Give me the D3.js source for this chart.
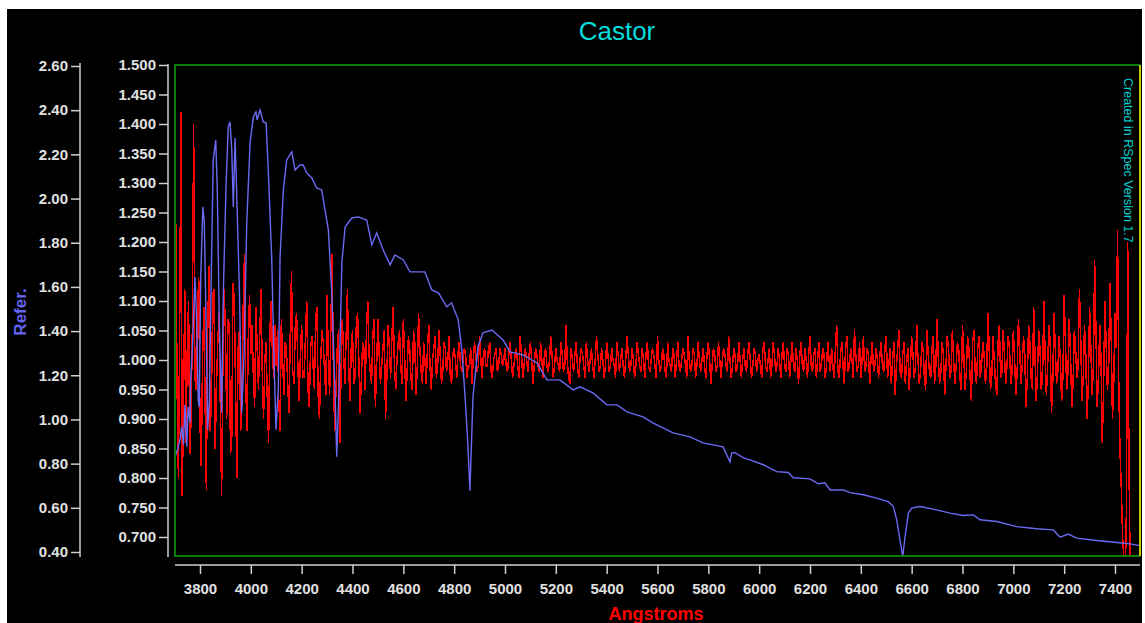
<!DOCTYPE html>
<html>
<head>
<meta charset="utf-8">
<script src="https://cdn.jsdelivr.net/npm/d3@7"></script>
<style>
  body { margin: 0; background: #fff; }
  .tick text { font-family: "Liberation Sans", Arial, sans-serif; font-size: 15px; font-weight: bold; fill: #e0e0e0; }
  .axis line, .axis path { stroke: #cfcfcf; stroke-width: 1.5; }
</style>
</head>
<body>
<svg id="spectrum" width="1145" height="623"></svg>
<script>
// Reference spectrum (blue, outer "Refer." axis)
const refWave = [3702,3711,3721,3728,3735,3741,3748,3753,3761,3763,3770,3780,3787,3793,3797,3803,3811,3817,3824,3830,
  3837,3846,3852,3862,3868,3876,3885,3892,3902,3911,3918,3925,3931,3938,3944,3955,3964,3973,3984,3997,
  4010,4020,4025,4036,4049,4060,4069,4082,4091,4099,4108,4115,4128,4141,4161,4174,4193,4206,4220,4240,
  4259,4279,4292,4305,4318,4331,4338,4347,4358,4371,4397,4423,4456,4476,4495,4521,4548,4567,4600,4626,
  4659,4685,4712,4738,4771,4790,4816,4830,4843,4853,4862,4874,4894,4913,4949,4992,5020,5071,5126,5165,
  5216,5268,5295,5346,5401,5441,5480,5543,5582,5661,5728,5779,5858,5885,5892,5905,5938,5964,6016,6069,
  6115,6134,6200,6233,6259,6279,6331,6357,6410,6462,6508,6528,6541,6554,6565,6574,6587,6600,6633,6685,
  6751,6803,6843,6869,6935,7013,7092,7157,7184,7216,7249,7328,7407,7459,7498];
const refFlux = [0.832,0.862,0.908,0.968,0.885,1.066,0.877,1.057,0.985,1.179,1.315,1.645,1.437,1.089,1.057,1.645,1.962,1.890,1.437,0.953,
  1.089,1.767,2.175,2.265,2.039,1.437,1.030,1.586,2.039,2.324,2.347,2.220,1.962,2.274,2.039,1.586,1.030,1.283,1.890,2.252,
  2.369,2.392,2.356,2.401,2.347,2.342,2.116,1.736,1.283,0.953,1.134,1.736,2.039,2.175,2.211,2.129,2.152,2.152,2.116,2.093,
  2.048,2.039,1.948,1.858,1.586,1.134,0.831,1.134,1.709,1.871,1.912,1.917,1.903,1.790,1.844,1.767,1.700,1.745,1.722,1.668,
  1.668,1.668,1.586,1.573,1.510,1.528,1.451,1.315,1.102,0.908,0.677,1.102,1.329,1.392,1.405,1.360,1.306,1.292,1.256,1.179,
  1.179,1.134,1.148,1.120,1.066,1.066,1.034,1.012,0.985,0.939,0.921,0.894,0.876,0.808,0.849,0.850,0.826,0.817,0.795,0.764,
  0.760,0.736,0.731,0.709,0.713,0.681,0.681,0.669,0.659,0.644,0.628,0.606,0.546,0.455,0.380,0.470,0.576,0.599,0.606,0.594,
  0.576,0.565,0.568,0.546,0.538,0.515,0.505,0.500,0.467,0.481,0.463,0.452,0.443,0.437,0.429];

// Response ratio (red, inner axis), one value every 5 A from 3705 A
const redStart = 3705, redStep = 5;
const redA = [1.23,0.95,0.80,1.05,1.42,0.77,0.92,1.12,0.86,1.02,1.10,0.84,0.90,1.06,1.40,0.97,0.95,1.08,1.14,0.89,
  0.82,1.00,1.09,0.93,0.78,1.04,1.16,0.88,0.93,1.11,1.12,0.85,0.96,1.03,1.08,0.92,0.77,0.99,1.12,1.05,
  0.90,1.07,1.06,0.84,0.87,1.13,1.10,0.95,0.80,1.02,1.05,0.88,0.93,1.09,1.18,0.96,0.88,1.04,1.11];
const redB = [1.01,1.06,0.97,0.92,1.09,1.02,0.95,1.04,1.12,0.98,0.90,1.00,1.03,0.93,0.86,1.05,1.10,1.01,0.97,1.06,
  0.99,1.05,0.93,0.88,1.07,1.00,0.94,1.03,1.02,0.96,0.91,1.04,1.15,0.98,0.96,1.06,1.08,0.99,0.93,1.01,
  1.06,0.97,0.97,1.04,1.10,0.95,0.92,1.02,1.04,0.99,0.95,1.07,1.09,0.94,0.90,1.00,1.05,1.03,0.98,0.94,
  1.11,1.00,0.94,1.06,1.18,0.97,0.88,0.95,1.02,1.05,0.86,0.98,1.07,1.01,0.96,1.04,1.12,0.99,0.93,1.02,
  1.05,0.96,0.97,1.06,1.08,1.00,0.91,0.97,1.03,1.02,0.95,1.05,1.10,1.01,0.98,0.96,1.04,1.07,0.92,0.99,
  1.07,1.01,0.96,0.99,1.02,1.05,0.90,0.97,1.06,1.02,0.97,1.04,1.09,0.99,0.95,1.00,1.03,1.05,0.99,0.96,
  1.07,1.01,0.93,0.98,1.04,1.02,0.97,0.95,1.05,1.03,0.94,0.99,1.08,1.02,0.98,0.96,1.03,1.00,0.96,1.02,
  1.06,0.99,0.95,1.00,1.02,1.04,0.97,0.99,1.05,1.01,0.96,0.98,1.03,1.02,0.98,1.00,1.04,0.97,0.96,1.01,
  1.02,1.00,0.97,1.01,1.03,0.99,0.98,1.00,1.02,1.01,0.97,0.99,0.99,1.02,0.96,1.00,1.03,1.01,0.98,0.99,
  1.04,1.00,0.97,1.01,1.02,0.99,0.99,1.02,1.03,0.98,0.97,1.00,1.01,1.02,0.98,0.99,1.02,1.01,0.99,1.00];
const redC = [1.02,0.99,0.98,1.01,1.03,1.00,0.97,0.99,1.01,1.02,0.99,0.97,1.04,1.01,0.97,0.99,1.02,1.00,0.98,1.01,
  1.03,1.00,0.96,0.99,1.02,1.01,0.99,0.98,1.03,1.00,0.97,1.01,1.02,0.99,0.98,1.00,1.04,1.01,0.97,0.99,
  1.02,1.00,0.99,0.98,1.03,1.01,0.98,0.99,1.06,1.00,0.97,0.96,1.02,1.00,0.98,1.01,1.03,0.99,0.97,1.00,
  1.02,1.01,0.99,0.97,1.03,1.00,0.98,1.00,1.02,0.99,0.97,1.00,1.04,1.01,0.98,0.99,1.02,1.00,0.97,0.99,
  1.03,1.01,0.98,0.99,1.02,1.00,0.99,0.97,1.03,1.01,0.98,1.00,1.02,0.99,0.97,1.00,1.04,1.01,0.98,0.99,
  1.02,1.00,0.97,0.99,1.03,1.01,0.99,0.98,1.02,1.00,0.97,1.01,1.03,0.99,0.98,1.00,1.02,1.01,0.99,0.97,
  1.04,1.00,0.98,0.99,1.02,1.01,0.98,0.97,1.03,1.00,0.99,0.98,1.02,1.01,0.97,1.00,1.03,0.99,0.98,1.00,
  1.02,1.01,0.99,0.97,1.04,1.00,0.98,0.99,1.02,1.01,0.97,0.99,1.03,1.00,0.98,1.00,1.02,0.99,0.97,1.01,
  1.03,1.00,0.96,0.99,1.02,1.01,0.98,0.99,1.03,1.00,0.97,1.00,1.02,1.01,0.99,0.98,1.04,1.00,0.97,0.99,
  1.02,1.01,0.98,0.99,1.03,1.00,0.97,1.00,1.02,0.99,0.98,1.01,1.03,1.00,0.97,0.99,1.02,1.01,0.98,1.00];
const redD = [1.01,0.99,0.97,1.02,1.03,0.99,0.98,1.00,1.02,0.97,0.99,1.03,1.01,0.98,0.99,1.02,1.00,0.97,1.01,1.03,
  0.99,0.98,1.02,1.01,0.97,1.00,1.03,0.99,0.98,1.02,1.00,0.96,1.01,1.03,0.99,0.98,1.02,1.00,0.97,1.01,
  1.04,0.99,0.98,1.01,1.02,0.97,1.00,1.03,0.98,0.99,1.02,1.01,0.97,0.99,1.03,1.00,0.98,1.02,0.99,0.97,
  1.02,1.06,0.98,0.97,1.01,1.03,0.99,0.96,1.02,1.04,0.98,0.99,1.02,1.00,0.97,1.05,1.01,0.98,0.99,1.03,
  0.97,1.00,1.04,0.98,0.99,1.02,1.01,0.96,1.00,1.03,0.98,0.99,1.02,1.00,0.97,1.01,1.03,0.99,0.98,1.02,
  1.04,0.97,0.99,1.02,0.96,1.00,1.03,0.94,0.99,1.02,1.05,0.98,0.97,1.01,1.03,0.96,1.00,1.02,0.95,0.99,
  1.04,1.01,0.97,0.99,1.06,1.00,0.96,0.98,1.03,1.02,0.97,0.95,1.05,1.01,0.98,0.97,1.02,1.04,0.96,0.99,
  1.07,1.00,0.96,0.98,1.03,1.01,0.94,0.99,1.04,1.02,0.97,0.98,1.05,1.00,0.96,0.99,1.03,1.02,0.97,0.95,
  1.06,1.01,0.95,0.98,1.04,1.02,0.97,0.93,1.03,1.05,0.98,0.96,1.02,1.04,0.97,0.99,1.03,1.01,0.96,0.98,
  1.08,1.02,0.95,0.97,1.04,1.00,0.96,0.94,1.03,1.06,0.97,0.98,1.05,1.01,0.96,0.99,1.04,1.02,0.96,0.98];
const redE = [1.05,1.00,0.94,0.98,1.07,1.02,0.96,0.99,1.04,1.01,0.92,0.97,1.06,1.03,0.97,0.95,1.09,1.01,0.93,0.98,
  1.05,1.02,0.95,0.97,1.10,1.01,0.94,0.99,1.06,1.03,0.91,0.96,1.08,1.02,0.96,0.98,1.04,1.00,0.93,0.97,
  1.11,1.03,0.95,0.98,1.07,1.01,0.92,0.96,1.05,1.02,0.97,0.99,1.12,1.04,0.93,0.97,1.06,1.01,0.90,0.96,
  1.09,1.02,0.94,0.99,1.17,1.05,0.92,0.97,1.06,1.00,0.86,0.95,1.10,1.03,0.95,0.98,1.13,1.04,0.90,0.96,
  1.08,1.02,1.22,0.95,0.84,0.78,0.70,0.66,0.62,0.75,1.20,0.82,0.64,0.62];

// Tick labels
const refTicks = [0.40,0.60,0.80,1.00,1.20,1.40,1.60,1.80,2.00,2.20,2.40,2.60];
const ratioTicks = [0.700,0.750,0.800,0.850,0.900,0.950,1.000,1.050,1.100,1.150,1.200,1.250,1.300,1.350,1.400,1.450,1.500];
const waveTicks = [3800,4000,4200,4400,4600,4800,5000,5200,5400,5600,5800,6000,6200,6400,6600,6800,7000,7200,7400];

class SpectrumChart {
  constructor() {
    this.svg = d3.select("#spectrum");
    this.plot = {left: 175, right: 1140, top: 65, bottom: 556};
    this.x = d3.scaleLinear().domain([3800, 7400]).range([200, 1115]);
    this.yRef = d3.scaleLinear().domain([0.4, 2.6]).range([552, 66]);
    this.yRatio = d3.scaleLinear().domain([0.7, 1.5]).range([537, 65]);
    this.draw();
  }

  draw() {
    const p = this.plot;
    this.svg.append("rect")
      .attr("x", 7).attr("y", 9).attr("width", 1135).attr("height", 614)
      .attr("fill", "#000");

    // title
    this.svg.append("text")
      .attr("x", 617).attr("y", 40)
      .attr("text-anchor", "middle")
      .style("font-family", "Liberation Sans, Arial, sans-serif")
      .style("font-size", "26px")
      .attr("fill", "#00dede")
      .text("Castor");

    // outer reference axis
    const refAxis = this.svg.append("g")
      .attr("class", "axis")
      .attr("transform", "translate(80,0)")
      .call(d3.axisLeft(this.yRef).tickValues(refTicks).tickSize(9).tickPadding(3)
        .tickFormat(d3.format(".2f")));
    refAxis.select(".domain").remove();
    refAxis.append("line").attr("x1", 0).attr("x2", 0).attr("y1", 63).attr("y2", 557);

    // inner ratio axis
    const ratioAxis = this.svg.append("g")
      .attr("class", "axis")
      .attr("transform", "translate(168,0)")
      .call(d3.axisLeft(this.yRatio).tickValues(ratioTicks).tickSize(9).tickPadding(3)
        .tickFormat(d3.format(".3f")));
    ratioAxis.select(".domain").remove();
    ratioAxis.append("line").attr("x1", 0).attr("x2", 0).attr("y1", 64).attr("y2", 557);

    // wavelength axis
    const xAxis = this.svg.append("g")
      .attr("class", "axis")
      .attr("transform", "translate(0,565)")
      .call(d3.axisBottom(this.x).tickValues(waveTicks).tickSize(9).tickPadding(9)
        .tickFormat(d3.format("d")));
    xAxis.select(".domain").remove();
    xAxis.append("line").attr("x1", p.left).attr("x2", p.right).attr("y1", 0).attr("y2", 0);

    // axis titles
    this.svg.append("text")
      .attr("transform", "translate(26,312) rotate(-90)")
      .attr("text-anchor", "middle")
      .style("font-family", "Liberation Sans, Arial, sans-serif")
      .style("font-size", "17px").style("font-weight", "bold")
      .attr("fill", "#6464f0")
      .text("Refer.");

    this.svg.append("text")
      .attr("x", 656).attr("y", 620)
      .attr("text-anchor", "middle")
      .style("font-family", "Liberation Sans, Arial, sans-serif")
      .style("font-size", "18px").style("font-weight", "bold")
      .attr("fill", "#ff0000")
      .text("Angstroms");

    // clip for plot
    this.svg.append("clipPath").attr("id", "plotClip")
      .append("rect")
      .attr("x", p.left).attr("y", p.top)
      .attr("width", p.right - p.left).attr("height", p.bottom - p.top);

    const g = this.svg.append("g").attr("clip-path", "url(#plotClip)");

    const redVals = redA.concat(redB, redC, redD, redE);
    const redData = redVals.map((v, i) => [redStart + i * redStep, v]);
    const refData = refWave.map((w, i) => [w, refFlux[i]]);

    // crisp edges so the dense noise reads as a solid band like the original
    g.append("path")
      .datum(redData)
      .attr("fill", "none")
      .attr("stroke", "#ff0000")
      .attr("stroke-width", 1.5)
      .attr("shape-rendering", "crispEdges")
      .attr("d", d3.line().x(d => this.x(d[0])).y(d => this.yRatio(d[1])));

    g.append("path")
      .datum(refData)
      .attr("fill", "none")
      .attr("stroke", "#6a6af4")
      .attr("stroke-width", 1.4)
      .attr("d", d3.line().x(d => this.x(d[0])).y(d => this.yRef(d[1])));

    // plot frame: green left/top/bottom, yellow right
    this.svg.append("path")
      .attr("d", `M${p.right},${p.top}H${p.left}V${p.bottom}H${p.right}`)
      .attr("fill", "none").attr("stroke", "#0b7d0b").attr("stroke-width", 2);
    this.svg.append("line")
      .attr("x1", p.right).attr("x2", p.right).attr("y1", p.top).attr("y2", p.bottom)
      .attr("stroke", "#c8c800").attr("stroke-width", 2);

    this.svg.append("text")
      .attr("transform", "translate(1124,78) rotate(90)")
      .style("font-family", "Liberation Sans, Arial, sans-serif")
      .style("font-size", "12.5px")
      .attr("fill", "#00d0d0")
      .text("Created in RSpec Version 1.7");
  }
}

new SpectrumChart();
</script>
</body>
</html>
